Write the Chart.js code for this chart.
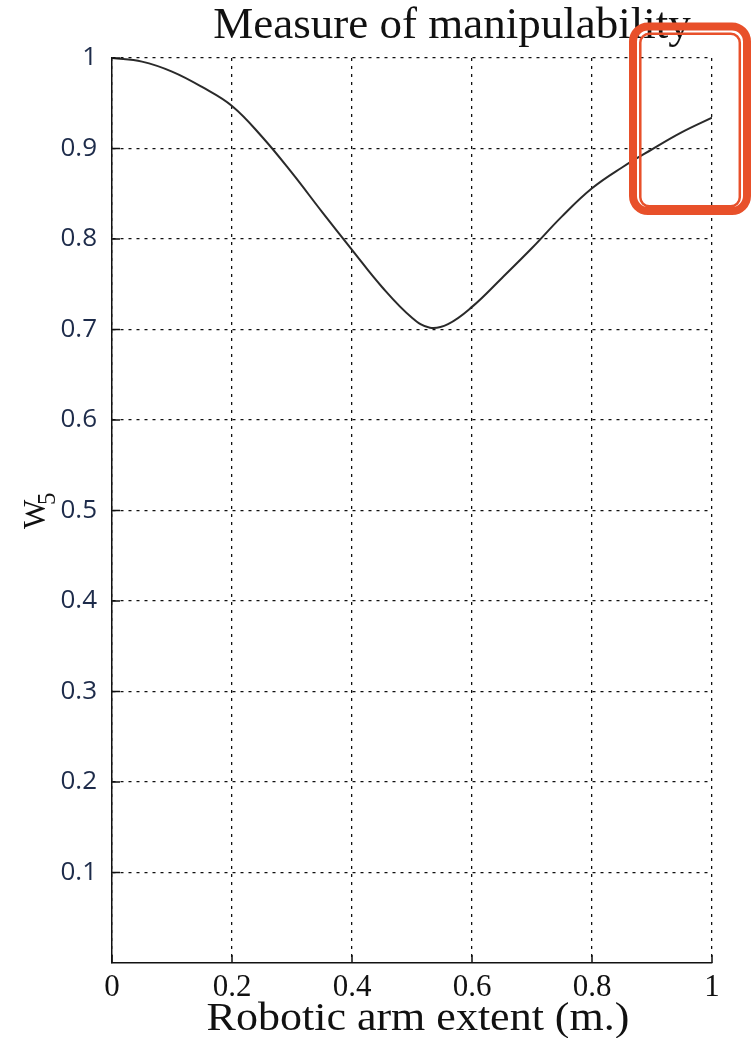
<!DOCTYPE html>
<html>
<head>
<meta charset="utf-8">
<title>Measure of manipulability</title>
<script src="https://cdn.jsdelivr.net/npm/chart.js@4.4.1/dist/chart.umd.min.js"></script>
<style>
    html, body { margin: 0; padding: 0; background: #fff; }
    canvas { display: block; }
</style>
</head>
<body>
<canvas id="manipChart" width="751" height="1038"></canvas>
<script>
// arm extent (m) and the W5 manipulability measure
const armExtent = [0, 0.05, 0.1, 0.15, 0.2, 0.25, 0.3, 0.35, 0.4, 0.45, 0.5, 0.53, 0.56, 0.6, 0.65, 0.7, 0.75, 0.8, 0.85, 0.9, 0.95, 1.0];
const w5 = [1.0, 0.996, 0.985, 0.968, 0.947, 0.913, 0.873, 0.83, 0.788, 0.747, 0.713, 0.702, 0.706, 0.725, 0.757, 0.79, 0.825, 0.856, 0.879, 0.899, 0.918, 0.934];

const xTicks = [0, 0.2, 0.4, 0.6, 0.8, 1];
const xTickLabels = ['0', '0.2', '0.4', '0.6', '0.8', '1'];
const yTicks = [0.1, 0.2, 0.3, 0.4, 0.5, 0.6, 0.7, 0.8, 0.9, 1];
const yTickLabels = ['0.1', '0.2', '0.3', '0.4', '0.5', '0.6', '0.7', '0.8', '0.9', '1'];

const serif = '"Liberation Serif", "Times New Roman", serif';
const dotted = [3, 5];

// short solid ticks pointing into the plot, like matlab's default
const innerTicks = {
    id: 'innerTicks',
    afterDatasetsDraw(chart) {
        const { ctx, chartArea, scales } = chart;
        ctx.save();
        ctx.strokeStyle = '#111';
        ctx.lineWidth = 1.5;
        ctx.beginPath();
        yTicks.forEach(v => {
            const y = scales.y.getPixelForValue(v);
            ctx.moveTo(chartArea.left, y);
            ctx.lineTo(chartArea.left + 8, y);
        });
        xTicks.forEach(v => {
            const x = scales.x.getPixelForValue(v);
            ctx.moveTo(x, chartArea.bottom);
            ctx.lineTo(x, chartArea.bottom - 8);
        });
        ctx.stroke();
        ctx.restore();
    }
};

// title, x label and the rotated "W" with subscript 5
const labels = {
    id: 'labels',
    afterDraw(chart) {
        const { ctx } = chart;
        ctx.save();
        ctx.fillStyle = '#111';
        ctx.textBaseline = 'alphabetic';
        ctx.textAlign = 'center';
        ctx.font = '45px ' + serif;
        ctx.fillText('Measure of manipulability', 452, 38);

        // x label is a little wider than the font's natural width
        ctx.save();
        ctx.translate(418, 1030);
        ctx.scale(1.1, 1);
        ctx.font = '40px ' + serif;
        ctx.fillText('Robotic arm extent (m.)', 0, 0);
        ctx.restore();

        ctx.textAlign = 'left';
        ctx.translate(45, 529);
        ctx.rotate(-Math.PI / 2);
        ctx.font = '31px ' + serif;
        ctx.fillText('W', 0, 0);
        ctx.font = '25px ' + serif;
        ctx.fillText('5', 24, 10);
        ctx.restore();
    }
};

// orange rounded frame in the top right corner
const cornerFrame = {
    id: 'cornerFrame',
    afterDraw(chart) {
        const { ctx } = chart;
        ctx.save();
        ctx.strokeStyle = '#e8502a';
        ctx.lineWidth = 8;
        ctx.beginPath();
        ctx.roundRect(633, 26.5, 114, 184.5, 15);
        ctx.stroke();
        ctx.lineWidth = 2.5;
        ctx.beginPath();
        ctx.roundRect(640.3, 33.8, 99.5, 172.5, 9);
        ctx.stroke();
        ctx.restore();
    }
};

new Chart(document.getElementById('manipChart'), {
    type: 'line',
    data: {
        datasets: [{
            data: armExtent.map((x, i) => ({ x: x, y: w5[i] })),
            borderColor: '#2a2a2a',
            borderWidth: 2,
            pointRadius: 0,
            tension: 0.4,
            fill: false,
        }]
    },
    options: {
        responsive: false,
        animation: false,
        devicePixelRatio: 1,
        layout: { padding: { left: 0, right: 39, top: 58, bottom: 0 } },
        plugins: {
            legend: { display: false },
            tooltip: { enabled: false },
            title: { display: false },
        },
        scales: {
            x: {
                type: 'linear',
                min: 0,
                max: 1,
                afterBuildTicks: s => { s.ticks = xTicks.map(v => ({ value: v })); },
                afterFit: s => { s.height = 75; },
                ticks: {
                    color: '#111',
                    font: { family: serif, size: 31 },
                    padding: 6,
                    maxRotation: 0,
                    callback: (v, i) => xTickLabels[i],
                },
                grid: { color: '#111', lineWidth: 1.3, drawTicks: false },
                border: { display: true, color: '#111', width: 1.5, dash: dotted },
            },
            y: {
                min: 0,
                max: 1,
                afterBuildTicks: s => { s.ticks = yTicks.map(v => ({ value: v })); },
                afterFit: s => { s.width = 112; },
                ticks: {
                    color: '#1d2b4a',
                    font: { family: '"Open Sans", sans-serif', size: 26 },
                    padding: 15,
                    callback: (v, i) => yTickLabels[i],
                },
                grid: { color: '#111', lineWidth: 1.3, drawTicks: false },
                border: { display: true, color: '#111', width: 1.5, dash: dotted },
            },
        },
    },
    plugins: [innerTicks, labels, cornerFrame],
});
</script>
</body>
</html>
